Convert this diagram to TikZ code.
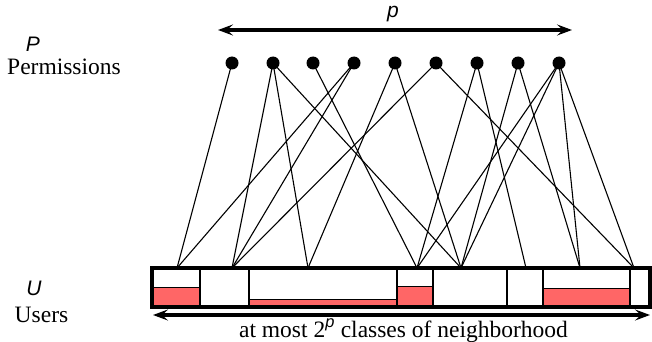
\documentclass[tikz,border=0pt]{standalone}
\usepackage{fontspec}
\setmainfont{Liberation Serif}
\setsansfont{Liberation Sans}
\usetikzlibrary{arrows.meta}
\definecolor{cellred}{RGB}{255,102,102}
\begin{document}
\begin{tikzpicture}[x=1pt,y=-1pt,
  dot/.style={circle,fill=black,inner sep=0pt,minimum size=13pt},
  edge/.style={line width=1.1pt},
  bigarrow/.style={line width=3.4pt,{Stealth[length=15pt,width=11pt,inset=6pt]}-{Stealth[length=15pt,width=11pt,inset=6pt]}},
  lbl/.style={font=\fontsize{23.5}{28}\selectfont,inner sep=0pt},
  sym/.style={font=\fontsize{21}{25}\selectfont\sffamily\itshape,inner sep=0pt},
  redcell/.style={fill=cellred,draw=black,line width=1pt},
  divider/.style={line width=2.6pt},
  outerbox/.style={line width=3.2pt}]
\useasboundingbox (0,0) rectangle (652,342);

% permission dots
\foreach \i/\x in {1/232,2/273,3/313,4/354,5/395,6/436,7/477,8/518,9/559}
  \node[dot] (d\i) at (\x,63) {};

% user class anchors
\foreach \j/\x in {1/177,2/232,3/308,4/417,5/461,6/526,7/580,8/634}
  \coordinate (b\j) at (\x,268);

% edges
\foreach \a/\b in {1/1,2/2,2/3,2/5,3/4,4/1,4/2,5/3,5/5,6/2,6/8,7/4,7/6,8/5,8/7,9/4,9/5,9/7,9/8}
  \draw[edge] (d\a.center) -- (b\b);

% red fills
\draw[redcell] (152,287) rectangle (200,307);
\draw[redcell] (249,299) rectangle (397,307);
\draw[redcell] (397,286) rectangle (433,307);
\draw[redcell] (543,288.5) rectangle (630,307);

% dividers
\foreach \x in {200,249,397,433,507,543,630}
  \draw[divider] (\x,268) -- (\x,307);

% outer box
\draw[outerbox] (152,268) rectangle (650,307);

% arrows
\coordinate (ta) at (218,30);
\coordinate (tb) at (572,30);
\draw[bigarrow] (ta) -- (tb);
\coordinate (ba) at (153,315);
\coordinate (bb) at (650,315);
\draw[bigarrow] (ba) -- (bb);

% labels
\node[sym,anchor=base] (plabel) at (393,18) {p};
\node[sym,anchor=base] (Plabel) at (33,52) {P};
\node[lbl,anchor=base] (perm) at (64,75) {Permissions};
\node[sym,anchor=base] (Ulabel) at (34,295) {U};
\node[lbl,anchor=base] (users) at (41.5,322) {Users};
\node[lbl,anchor=base] (classes) at (403.5,337) {at most 2\textsuperscript{\sffamily\itshape p} classes of neighborhood};
\end{tikzpicture}
\end{document}
